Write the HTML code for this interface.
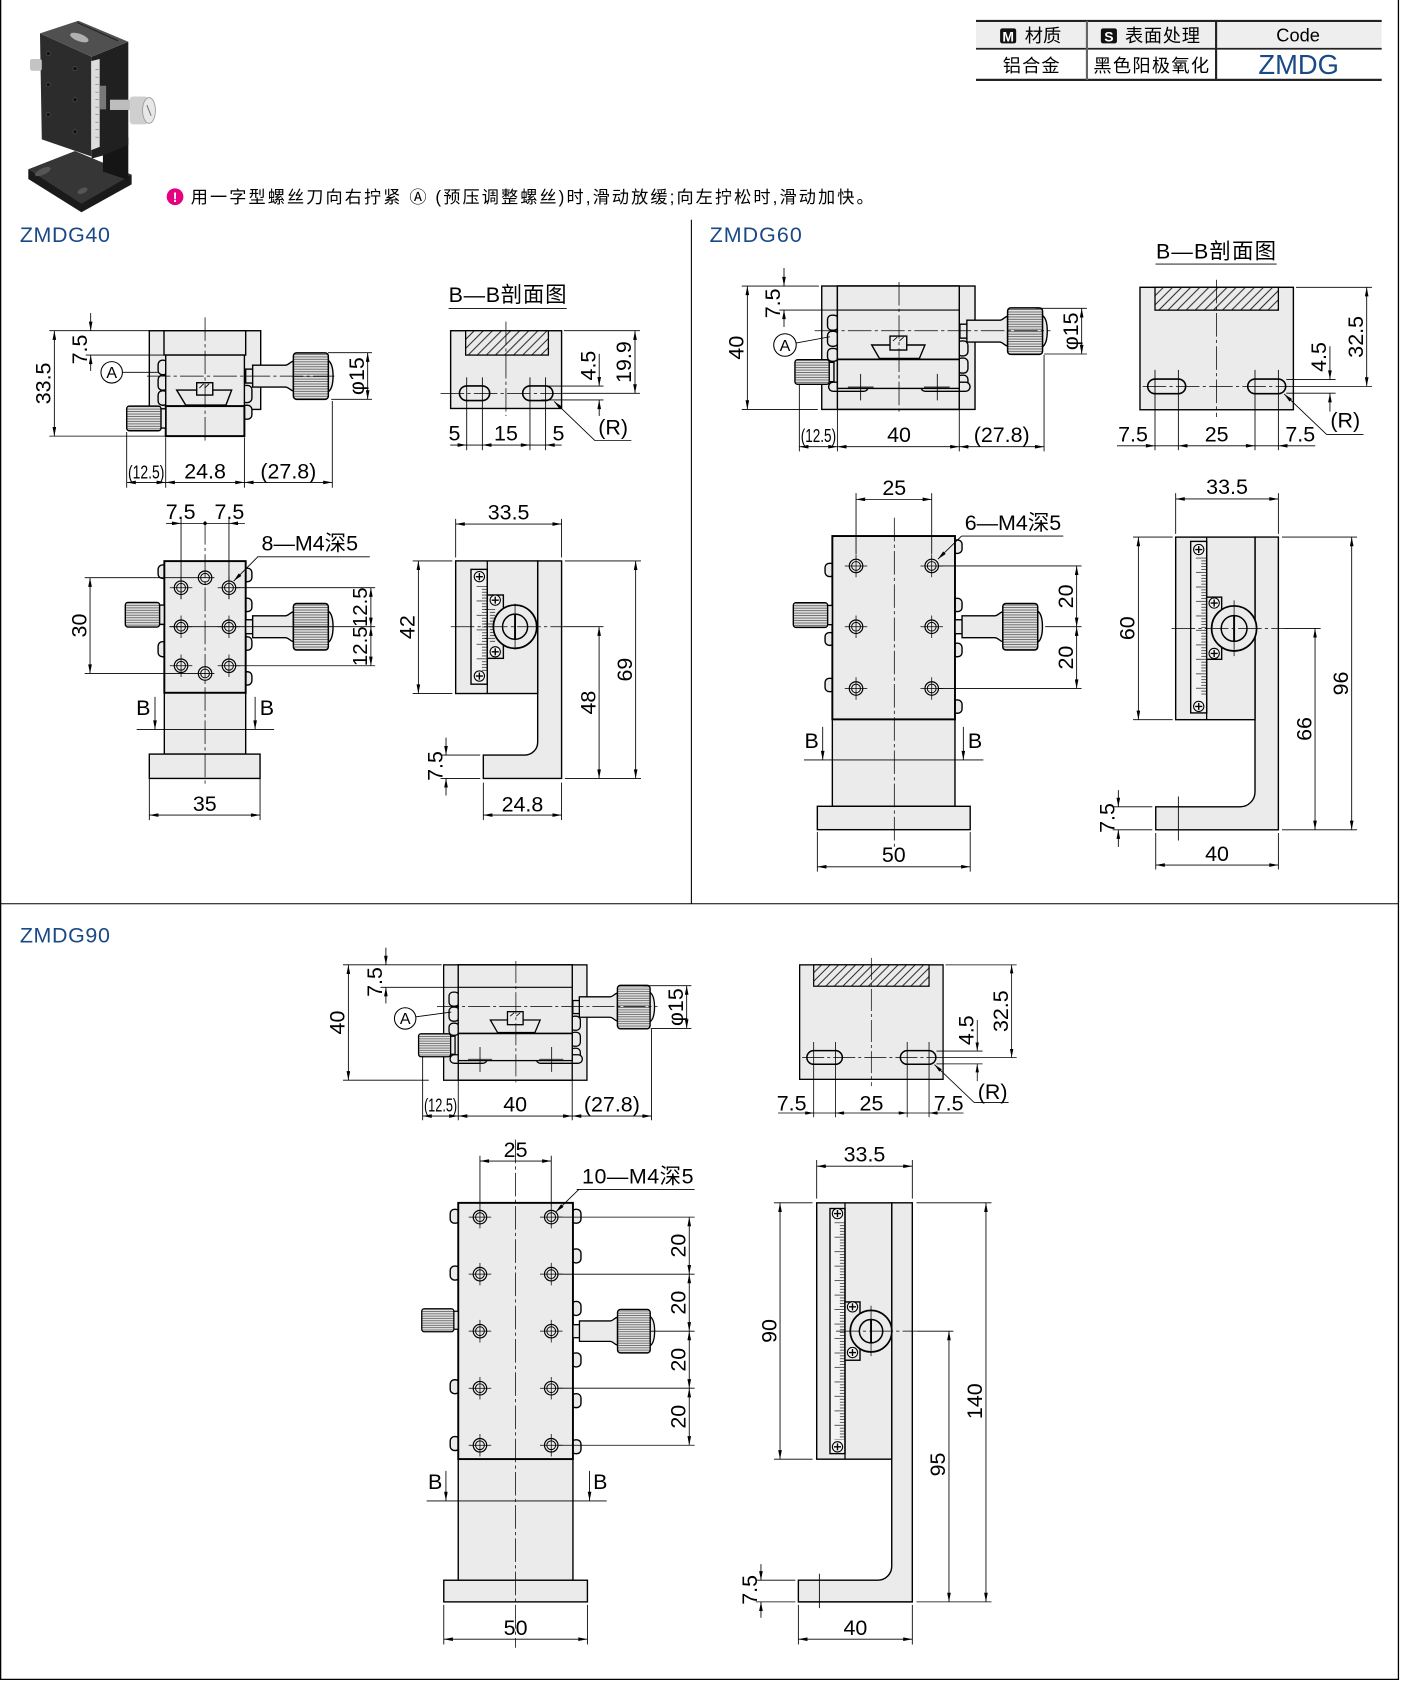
<!DOCTYPE html>
<html><head><meta charset="utf-8">
<style>
html,body{margin:0;padding:0;background:#fff}
svg{display:block}
text{font-family:"Liberation Sans","Noto Sans CJK SC",sans-serif;font-size:20px;text-anchor:middle;fill:#000}
.o{fill:#ebebeb;stroke:#000;stroke-width:1.3}
.t{fill:none;stroke:#000;stroke-width:.8}
.d{fill:none;stroke:#000;stroke-width:.8;marker-start:url(#a);marker-end:url(#a)}
.e{fill:none;stroke:#000;stroke-width:.8;marker-end:url(#a)}
.c{fill:none;stroke:#000;stroke-width:.7;stroke-dasharray:22 3 3 3}
.l{text-anchor:start}
.b{fill:#1a4a85}
</style></head><body>
<svg width="1401" height="1681" viewBox="0 0 1307 1568" preserveAspectRatio="none" xmlns="http://www.w3.org/2000/svg">
<defs>
<marker id="a" viewBox="0 0 10 4" refX="10" refY="2" markerWidth="9" markerHeight="3.4" markerUnits="userSpaceOnUse" orient="auto-start-reverse"><path d="M0,0L10,2L0,4Z" fill="#000"/></marker>
<pattern id="ht" width="6" height="6" patternUnits="userSpaceOnUse" patternTransform="rotate(45)"><rect width="6" height="6" fill="#ebebeb"/><line x1="3" y1="0" x2="3" y2="6" stroke="#000" stroke-width=".8"/></pattern>
<pattern id="kn" width="4" height="2.3" patternUnits="userSpaceOnUse"><rect width="4" height="2.3" fill="#e2e2e2"/><line x1="0" y1=".5" x2="4" y2=".5" stroke="#333" stroke-width=".6"/></pattern>
<pattern id="tk" width="15" height="13.5" patternUnits="userSpaceOnUse"><path d="M5,.5H15M10,3.2H15M10,5.9H15M10,8.6H15M10,11.3H15" stroke="#000" stroke-width=".6"/></pattern>
<g id="rk">
<rect class="o" x="0" y="-6.5" width="7" height="13"/>
<path class="o" d="M6.5,-10.2H37C40,-10.2 41,-13 44.5,-14V14C41,13 40,10.2 37,10.2H6.5Z"/>
<path class="o" d="M76.5,-15C80,-13 81.5,-7 81.5,0S80,13 76.5,15Z"/>
<rect x="44.5" y="-21.7" width="32.6" height="43.4" rx="3" fill="url(#kn)" stroke="#000" stroke-width="1.4"/>
</g>
<g id="lk">
<path class="o" d="M-5,-9H0V9H-5Z"/>
<rect x="-36.4" y="-11.5" width="32" height="23" rx="2.5" fill="url(#kn)" stroke="#000" stroke-width="1.3"/>
</g>
<g id="h"><circle r="6.3" fill="#ebebeb" stroke="#000" stroke-width="1.1"/><circle r="4.1" fill="none" stroke="#000" stroke-width=".9"/><path d="M-10.5,0H10.5M0,-10.5V10.5" stroke="#000" stroke-width=".7"/></g>
<g id="sc"><circle r="4.8" fill="#f5f5f5" stroke="#000" stroke-width="1"/><path d="M-3.3,0H3.3M0,-3.3V3.3" stroke="#000" stroke-width="1.3"/></g>
</defs>

<!-- frame -->
<path d="M0.6,0V1566.5H1304.6V0" fill="none" stroke="#000" stroke-width="1.2"/>
<path d="M0,843H1305M645,205V843" fill="none" stroke="#000" stroke-width="1"/>

<!-- header table -->
<rect x="910.5" y="19.5" width="378.5" height="26" fill="#eeeeee"/>
<path d="M910.5,19.5H1289M910.5,74.5H1289" stroke="#222" stroke-width="2"/>
<path d="M910.5,45.5H1289" stroke="#222" stroke-width="1.6"/>
<path d="M1014,19.5V74.5" stroke="#666" stroke-width="2"/>
<path d="M1134.5,19.5V74.5" stroke="#222" stroke-width="2"/>
<rect x="933" y="26.5" width="15" height="14" rx="2" fill="#111"/>
<text x="940.5" y="38.5" style="font-size:13px;font-weight:bold;fill:#fff">M</text>
<text class="l" x="956" y="39" style="font-size:17px" textLength="34">材质</text>
<rect x="1027" y="26.5" width="15" height="14" rx="2" fill="#111"/>
<text x="1034.5" y="38.5" style="font-size:13px;font-weight:bold;fill:#fff">S</text>
<text class="l" x="1049.5" y="39" style="font-size:17px" textLength="70">表面处理</text>
<text x="1211" y="38.5" style="font-size:17px">Code</text>
<text class="l" x="935.5" y="67" style="font-size:17px" textLength="53">铝合金</text>
<text class="l" x="1020" y="67" style="font-size:17px" textLength="108">黑色阳极氧化</text>
<text class="b" x="1211.5" y="69" style="font-size:25.5px">ZMDG</text>

<!-- photo -->
<g>
<polygon points="70,141 122.8,163 122.8,172 76,198 26.4,167 26.4,158" fill="#1a1a1a"/>
<polygon points="26.4,158 70,141 122.8,163 76,190" fill="#363636"/>
<ellipse cx="40" cy="160" rx="8" ry="3" fill="#555" transform="rotate(-25 40 160)"/>
<ellipse cx="77" cy="178" rx="5" ry="2.5" fill="#555" transform="rotate(-25 77 178)"/>
<polygon points="96,135 119.7,128 119.7,168 96,160" fill="#151515"/>
<polygon points="85.5,52.9 119.7,38.9 119.7,135 96,145 85.5,148" fill="#202020"/>
<polygon points="37.3,31.1 85.5,52.9 85.5,146 39,130" fill="#2c2c2c"/>
<polygon points="37.3,31.1 73.1,19.3 119.7,38.9 85.5,52.9" fill="#505050"/>
<path d="M72,21L110,38" stroke="#222" stroke-width="1"/>
<ellipse cx="74" cy="35" rx="9" ry="3.5" fill="#b0b0b0" transform="rotate(20 74 35)"/>
<polygon points="85,57 93,55 93,137 85,140" fill="#dcdcdc"/>
<path d="M89,65H92M89,72H92M89,79H92M89,86H92M89,93H92M89,100H92M89,107H92M89,114H92M89,121H92M89,128H92" stroke="#777" stroke-width=".6"/>
<rect x="93" y="80" width="6" height="22" fill="#777"/>
<g fill="#111" stroke="#555" stroke-width=".6"><circle cx="45" cy="50" r="2"/><circle cx="45" cy="79" r="2"/><circle cx="45" cy="107" r="2"/><circle cx="70" cy="64" r="2"/><circle cx="70" cy="93" r="2"/><circle cx="70" cy="123" r="2"/></g>
<rect x="28" y="55" width="11" height="11" rx="2" fill="#c4c4c4"/>
<rect x="102.6" y="93" width="19" height="9.6" fill="#bdbdbd"/>
<rect x="121" y="90" width="17" height="26" rx="3" fill="#cfcfcf"/>
<ellipse cx="139" cy="103" rx="6" ry="12" fill="#e8e8e8" stroke="#999" stroke-width=".8"/>
<path d="M137,98L141,108" stroke="#777" stroke-width="1"/>
</g>

<!-- note -->
<circle cx="163.3" cy="183.5" r="7.8" fill="#e4007f"/>
<text x="163.3" y="188.5" style="font-size:13px;font-weight:bold;fill:#fff">!</text>
<text class="l" x="178" y="189.5" style="font-size:16px" textLength="637">用一字型螺丝刀向右拧紧 Ⓐ (预压调整螺丝)时,滑动放缓;向左拧松时,滑动加快。</text>

<!-- titles -->
<text class="l b" x="18.5" y="225.5" textLength="84">ZMDG40</text>
<text class="l b" x="662" y="225.5" textLength="86">ZMDG60</text>
<text class="l b" x="18.5" y="879" textLength="84">ZMDG90</text>

<!-- ===== ZMDG40 front ===== -->
<rect class="o" x="139.3" y="308.5" width="103.9" height="73.4"/>
<rect class="o" x="147.5" y="336" width="9" height="13.5" rx="4"/>
<rect class="o" x="147.5" y="350" width="9" height="14" rx="4"/>
<rect class="o" x="147.5" y="364.5" width="9" height="13.5" rx="4"/>
<rect class="o" x="225" y="359.5" width="10" height="16" rx="4"/>
<rect class="o" x="225" y="378" width="10" height="13" rx="4"/>
<rect class="o" x="153" y="308.5" width="76.2" height="22.7"/>
<rect class="o" x="154.6" y="331.2" width="73.4" height="47.6"/>
<rect class="o" x="154.6" y="378.8" width="73.4" height="28" style="stroke-width:1.8"/>
<path class="o" d="M164.8,363.8H216.1L210.8,377.8H173.2Z"/>
<rect class="o" x="183.5" y="357" width="15" height="11.5"/>
<path class="t" d="M186,362L190,358M191,362L195,358"/>
<use href="#rk" transform="translate(229.2,350.8)"/>
<use href="#lk" transform="translate(154.6,390.3)"/>
<path class="c" d="M137,350.8H312M191.3,296V412"/>
<path class="t" d="M46,308.5H139M46,406.8H154M80,331.2H153M306,329H347M309,372.5H347M118.2,403V455M154.6,408V455M228,408V455M310,374V455"/>
<path class="d" d="M50.7,308.5V406.8"/>
<path class="e" d="M84.6,292V308.5"/>
<path class="e" d="M84.6,346V331.2"/>
<path class="d" d="M343,329V372.5"/>
<path class="d" d="M118.2,450H154.6"/>
<path class="d" d="M154.6,450H228"/>
<path class="d" d="M228,450H310"/>
<text x="47.2" y="357.6" transform="rotate(-90 47.2 357.6)">33.5</text>
<text x="81" y="326" transform="rotate(-90 81 326)">7.5</text>
<text x="339.5" y="350.8" transform="rotate(-90 339.5 350.8)">φ15</text>
<text x="136.4" y="446.5" style="font-size:17px" textLength="34" lengthAdjust="spacingAndGlyphs">(12.5)</text>
<text x="191.3" y="446.5">24.8</text>
<text x="269" y="446.5">(27.8)</text>
<circle cx="104.2" cy="347.3" r="10" fill="#fff" stroke="#000" stroke-width="1"/>
<text x="104.2" y="352.6" style="font-size:15px">A</text>
<path class="t" d="M114.2,347.3H148"/>

<!-- ===== ZMDG40 plan ===== -->
<rect class="o" x="147.5" y="527" width="9" height="12.5" rx="4"/>
<rect class="o" x="147.5" y="598.6" width="9" height="14" rx="4"/>
<rect class="o" x="226" y="530" width="9" height="12.6" rx="4"/>
<rect class="o" x="226" y="558" width="9" height="12.5" rx="4"/>
<rect class="o" x="226" y="594" width="9" height="12.5" rx="4"/>
<rect class="o" x="226" y="626.6" width="9" height="12.4" rx="4"/>
<rect class="o" x="153.3" y="646.2" width="75.9" height="57.2"/>
<rect class="o" x="139.3" y="703.4" width="103.3" height="22.7"/>
<rect class="o" x="153.3" y="523.4" width="75.9" height="122.8" style="stroke-width:1.8"/>
<use href="#lk" transform="translate(153.3,573.4)"/>
<use href="#rk" transform="translate(229.2,584.6)"/>
<use href="#h" x="168.9" y="548.2"/><use href="#h" x="213.6" y="548.2"/>
<use href="#h" x="168.9" y="584.6"/><use href="#h" x="213.6" y="584.6"/>
<use href="#h" x="168.9" y="621"/><use href="#h" x="213.6" y="621"/>
<circle cx="191.3" cy="538.9" r="6.3" class="o" style="stroke-width:1.1"/><circle cx="191.3" cy="538.9" r="4.1" fill="none" stroke="#000" stroke-width=".9"/>
<circle cx="191.3" cy="628.2" r="6.3" class="o" style="stroke-width:1.1"/><circle cx="191.3" cy="628.2" r="4.1" fill="none" stroke="#000" stroke-width=".9"/>
<path class="c" d="M191.3,486V733"/>
<path class="t" d="M168.9,483V559M213.6,483V559M168.9,488.2H213.6M79,538.9H200M79,628.2H200M220,548.2H350M220,621H350M158,584.6H350M127.5,680.4H255.7M139.3,726V765M242.6,726V765M240,519.4H345"/>
<circle cx="191.3" cy="488.2" r="1.6" fill="#000"/>
<path class="e" d="M155,488.2H168.9"/>
<path class="e" d="M228.5,488.2H213.6"/>
<path class="e" d="M240.5,519.4L218,542"/>
<path class="d" d="M84,538.9V628.2"/>
<path class="d" d="M346,548.2V584.6"/>
<path class="d" d="M346,584.6V621"/>
<path class="e" d="M144.6,650V680.4"/>
<path class="e" d="M238,650V680.4"/>
<path class="d" d="M139.3,760.3H242.6"/>
<text x="168.5" y="484">7.5</text>
<text x="214" y="484">7.5</text>
<text class="l" x="244" y="513.5" textLength="90">8—M4深5</text>
<text x="80.5" y="583.5" transform="rotate(-90 80.5 583.5)">30</text>
<text x="342.5" y="566.4" transform="rotate(-90 342.5 566.4)" style="font-size:19px">12.5</text>
<text x="342.5" y="602.8" transform="rotate(-90 342.5 602.8)" style="font-size:19px">12.5</text>
<text x="133.7" y="667">B</text>
<text x="249" y="667">B</text>
<text x="191" y="756.5">35</text>

<!-- ===== ZMDG40 B-B ===== -->
<text class="l" x="418.5" y="281.5" textLength="110">B—B剖面图</text>
<path class="t" d="M418.5,287.7H528.7"/>
<rect class="o" x="420.4" y="308.5" width="103.5" height="72.5"/>
<rect x="434.4" y="308.5" width="77.2" height="22.7" fill="url(#ht)" stroke="#000" stroke-width="1.2"/>
<rect class="o" x="428.6" y="360" width="28.2" height="13.6" rx="6.8" style="stroke-width:1.5"/>
<rect class="o" x="487.6" y="360" width="28.2" height="13.6" rx="6.8" style="stroke-width:1.5"/>
<path class="c" d="M472,300V388M411,366.9H525"/>
<path class="t" d="M435.4,352V420M450,352V420M494.4,352V420M509,352V420M505,360.1H563M505,373.1H563M526,308.5H597M525,366.9H597M555,411H589M435.4,415.1H450M494.4,415.1H509"/>
<path class="e" d="M559,330V360.1"/>
<path class="e" d="M559,388V373.1"/>
<path class="d" d="M592.4,308.5V366.9"/>
<path class="e" d="M555,411L517,374.5"/>
<path class="e" d="M420,415.1H435.4"/>
<path class="d" d="M450,415.1H494.4"/>
<path class="e" d="M524,415.1H509"/>
<text x="555.5" y="341" transform="rotate(-90 555.5 341)">4.5</text>
<text x="588.9" y="337.7" transform="rotate(-90 588.9 337.7)">19.9</text>
<text x="572" y="405.5">(R)</text>
<text x="424" y="411">5</text>
<text x="472" y="411">15</text>
<text x="521" y="411">5</text>

<!-- ===== ZMDG40 side ===== -->
<path class="o" d="M501.6,523.2H523.9V726.1H450.9V704.3H489.6A12,12 0 0 0 501.6,692.3Z"/>
<rect class="o" x="425.1" y="523.2" width="76.5" height="123.7"/>
<rect class="o" x="439.4" y="531.1" width="15.2" height="107.1" style="fill:#f3f3f3"/>
<path class="t" d="M454.6,523.2V646.9" style="stroke-width:1.2"/>
<g transform="translate(439.6,546.5)"><rect width="15" height="79.4" fill="url(#tk)"/></g>
<use href="#sc" x="447.2" y="537.9"/><use href="#sc" x="447.2" y="630.6"/>
<rect class="o" x="454.6" y="555" width="15" height="59.1"/>
<g transform="translate(447,568)"><rect width="15" height="32" fill="url(#tk)"/></g>
<use href="#sc" x="462" y="559.8"/><use href="#sc" x="462" y="608"/>
<circle class="o" cx="480.5" cy="584.6" r="20.2" style="stroke-width:1.6"/>
<circle class="o" cx="480.5" cy="584.6" r="11.7" style="stroke-width:1.4"/>
<path d="M480.5,573V596" stroke="#000" stroke-width="1.8"/>
<path class="c" d="M420.5,584.6H526M480.5,563V606"/>
<path class="t" d="M526,584.6H563M425.1,484V520M523.9,484V520M385,523.2H422M385,646.9H422M527,523.2H598M527,726.1H598M411,704.3H448M411,726.1H448M450.9,730V765M523.9,730V765"/>
<path class="d" d="M425.1,488.8H523.9"/>
<path class="d" d="M390.3,523.2V646.9"/>
<path class="d" d="M593,523.2V726.1"/>
<path class="d" d="M558.9,584.6V726.1"/>
<path class="e" d="M416.1,688V704.3"/>
<path class="e" d="M416.1,742V726.1"/>
<path class="d" d="M450.9,760.3H523.9"/>
<text x="474.5" y="484.5">33.5</text>
<text x="386.8" y="585" transform="rotate(-90 386.8 585)">42</text>
<text x="589.5" y="624.6" transform="rotate(-90 589.5 624.6)">69</text>
<text x="555.4" y="655.4" transform="rotate(-90 555.4 655.4)">48</text>
<text x="412.6" y="714.5" transform="rotate(-90 412.6 714.5)">7.5</text>
<text x="487.4" y="756.8">24.8</text>

<!-- ===== ZMDG60 front ===== -->
<g id="f60">
<rect class="o" x="766.6" y="266.8" width="143" height="115.1"/>
<rect class="o" x="772" y="294" width="10" height="14" rx="4"/>
<rect class="o" x="772" y="309" width="10" height="14" rx="4"/>
<rect class="o" x="772" y="325" width="10" height="12" rx="4"/>
<rect class="o" x="893" y="318" width="10" height="14" rx="4"/>
<rect class="o" x="893" y="334" width="10" height="14" rx="4"/>
<rect class="o" x="893" y="350" width="10" height="13" rx="4"/>
<rect class="o" x="773" y="356.5" width="37" height="8.5" rx="4.2"/>
<rect class="o" x="859" y="356.5" width="46" height="8.5" rx="4.2"/>
<rect class="o" x="781.2" y="266.8" width="113.7" height="115.1" style="fill:none"/>
<rect class="o" x="781.2" y="266.8" width="113.7" height="95.5"/>
<path d="M781.2,289.2H894.9" stroke="#000" stroke-width="1"/>
<path d="M781.2,335.2H894.9" stroke="#000" stroke-width="1.7"/>
<path class="t" d="M802.9,348.7V373.5M791,361H815M874.4,348.7V373.5M862,361H886"/>
<path class="o" d="M813.2,321.8H862.9L857.7,334.3H820.4Z"/>
<rect class="o" x="830.3" y="313.5" width="15.6" height="13"/>
<path class="t" d="M833,318L837,314.5M839,318L843,314.5"/>
<use href="#rk" transform="translate(895.5,308.9)"/>
<use href="#lk" transform="translate(778,347)"/>
<path class="c" d="M760,308.5H980M838.7,263V386"/>
</g>
<path class="t" d="M692,266.8H764M692,381.9H763M727,289.2H781M966,287.6H1014M974,330.2H1014M745.7,359V421M781.2,382V421M894.9,382V421M974,331V421M742.5,320L774.3,314.1"/>
<path class="d" d="M697.2,266.8V381.9"/>
<path class="e" d="M731.4,250V266.8"/>
<path class="e" d="M731.4,305V289.2"/>
<path class="d" d="M1009.1,287.6V330.2"/>
<path class="d" d="M745.7,416.7H781.2"/>
<path class="d" d="M781.2,416.7H894.9"/>
<path class="d" d="M894.9,416.7H974"/>
<circle cx="732.3" cy="321.8" r="10.5" fill="#fff" stroke="#000" stroke-width="1"/>
<text x="732.3" y="327.2" style="font-size:15px">A</text>
<text x="693.7" y="324.3" transform="rotate(-90 693.7 324.3)">40</text>
<text x="727.9" y="283" transform="rotate(-90 727.9 283)">7.5</text>
<text x="1005.6" y="309" transform="rotate(-90 1005.6 309)">φ15</text>
<text x="763.5" y="412.5" style="font-size:17px" textLength="33" lengthAdjust="spacingAndGlyphs">(12.5)</text>
<text x="838.7" y="412.5">40</text>
<text x="934.5" y="412.5">(27.8)</text>

<!-- ===== ZMDG60 plan ===== -->
<rect class="o" x="769.7" y="525.4" width="9" height="12.4" rx="4"/>
<rect class="o" x="769.7" y="590" width="9" height="12" rx="4"/>
<rect class="o" x="769.7" y="632.7" width="9" height="12.5" rx="4"/>
<rect class="o" x="888.5" y="503.7" width="9" height="12.5" rx="4"/>
<rect class="o" x="888.5" y="558.1" width="9" height="12.4" rx="4"/>
<rect class="o" x="888.5" y="600" width="9" height="12.6" rx="4"/>
<rect class="o" x="888.5" y="652.9" width="9" height="12.4" rx="4"/>
<rect class="o" x="776.5" y="671" width="114.4" height="81.1"/>
<rect class="o" x="762.5" y="752.1" width="142.6" height="21.8"/>
<rect class="o" x="776.5" y="500" width="114.4" height="171" style="stroke-width:1.8"/>
<use href="#lk" transform="translate(776.5,573.7)"/>
<use href="#rk" transform="translate(891,584.6)"/>
<use href="#h" x="798.6" y="527.9"/><use href="#h" x="869.2" y="527.9"/>
<use href="#h" x="798.6" y="584.6"/><use href="#h" x="869.2" y="584.6"/>
<use href="#h" x="798.6" y="642.2"/><use href="#h" x="869.2" y="642.2"/>
<path class="c" d="M834.3,483V792"/>
<path class="t" d="M798.6,460V517M869.2,460V517M876,527.9H1009M975,584.6H1009M876,642.2H1009M897,500H992M750,708.9H917.4M762.5,776V813M905.1,776V813"/>
<path class="d" d="M798.6,465.8H869.2"/>
<path class="e" d="M897,500L875,521.5"/>
<path class="d" d="M1004.4,527.9V584.6"/>
<path class="d" d="M1004.4,584.6V642.2"/>
<path class="e" d="M767.5,678V708.9"/>
<path class="e" d="M898.7,678V708.9"/>
<path class="d" d="M762.5,808.5H905.1"/>
<text x="834.3" y="461.5">25</text>
<text class="l" x="900" y="494.5" textLength="90">6—M4深5</text>
<text x="1000.9" y="556.3" transform="rotate(-90 1000.9 556.3)">20</text>
<text x="1000.9" y="613.4" transform="rotate(-90 1000.9 613.4)">20</text>
<text x="757.2" y="697.5">B</text>
<text x="909.6" y="697.5">B</text>
<text x="833.8" y="804">50</text>

<!-- ===== ZMDG60 B-B ===== -->
<text class="l" x="1078.4" y="241" textLength="112">B—B剖面图</text>
<path class="t" d="M1078,246.3H1191"/>
<g id="s60">
<rect class="o" x="1063.5" y="268" width="143.1" height="114.2"/>
<rect x="1077.5" y="268" width="115.1" height="21.3" fill="url(#ht)" stroke="#000" stroke-width="1.2"/>
<rect class="o" x="1070.7" y="353.6" width="35.4" height="13.6" rx="6.8" style="stroke-width:1.5"/>
<rect class="o" x="1164" y="353.6" width="35.4" height="13.6" rx="6.8" style="stroke-width:1.5"/>
<path class="c" d="M1135,261V389M1066,360.4H1205"/>
<path class="t" d="M1205,360.4H1280M1077.5,345V420M1099.3,345V420M1170.8,345V420M1192.6,345V420M1200,354H1246M1200,366.8H1246M1209,268H1280M1237.7,405.4H1272M1077.5,415.8H1099.3M1170.8,415.8H1192.6"/>
<path class="e" d="M1240.7,323V354"/>
<path class="e" d="M1240.7,384V366.8"/>
<path class="d" d="M1275,268V360.4"/>
<path class="e" d="M1237.7,405.4L1198,367.5"/>
<path class="e" d="M1042,415.8H1077.5"/>
<path class="d" d="M1099.3,415.8H1170.8"/>
<path class="e" d="M1227,415.8H1192.6"/>
</g>
<text x="1271.5" y="314.2" transform="rotate(-90 1271.5 314.2)">32.5</text>
<text x="1237.2" y="333" transform="rotate(-90 1237.2 333)">4.5</text>
<text x="1255" y="399">(R)</text>
<text x="1057" y="412">7.5</text>
<text x="1135" y="412">25</text>
<text x="1213" y="412">7.5</text>

<!-- ===== ZMDG60 side ===== -->
<path class="o" d="M1170.8,501H1192.6V774H1078.2V752.6H1156.8A14,14 0 0 0 1170.8,738.6Z"/>
<rect class="o" x="1096.8" y="501" width="74" height="170.3"/>
<rect class="o" x="1110.8" y="505" width="14.9" height="160" style="fill:#f3f3f3"/>
<path class="t" d="M1125.7,501V671.3" style="stroke-width:1.2"/>
<g transform="translate(1110.7,520)"><rect width="15" height="128" fill="url(#tk)"/></g>
<use href="#sc" x="1118.3" y="512.6"/><use href="#sc" x="1118.3" y="658.9"/>
<rect class="o" x="1125.7" y="557" width="14" height="58"/>
<use href="#sc" x="1132.7" y="562.5"/><use href="#sc" x="1132.7" y="609.5"/>
<circle class="o" cx="1151.3" cy="586.2" r="21" style="stroke-width:1.6"/>
<circle class="o" cx="1151.3" cy="586.2" r="12" style="stroke-width:1.4"/>
<path d="M1151.3,574.5V598" stroke="#000" stroke-width="1.8"/>
<path class="c" d="M1093,586.2H1197M1151.3,560V612"/>
<path class="t" d="M1197,586.2H1232M1099.3,743V784M1096.8,460V498M1192.6,460V498M1057,501H1094M1057,671.3H1094M1196,501H1266M1196,774H1266M1038,752.6H1075M1038,774H1075M1078.2,777V811M1192.6,777V811"/>
<path class="d" d="M1096.8,465.4H1192.6"/>
<path class="d" d="M1062,501V671.3"/>
<path class="d" d="M1261,501V774"/>
<path class="d" d="M1226.8,586.2V774"/>
<path class="e" d="M1043.3,737V752.6"/>
<path class="e" d="M1043.3,790V774"/>
<path class="d" d="M1078.2,806.9H1192.6"/>
<text x="1144.7" y="461">33.5</text>
<text x="1058.5" y="586" transform="rotate(-90 1058.5 586)">60</text>
<text x="1257.5" y="637.5" transform="rotate(-90 1257.5 637.5)">96</text>
<text x="1223.3" y="680" transform="rotate(-90 1223.3 680)">66</text>
<text x="1039.8" y="763" transform="rotate(-90 1039.8 763)">7.5</text>
<text x="1135.4" y="803">40</text>

<!-- ===== ZMDG90 front ===== -->
<use href="#f60" transform="translate(481,900) scale(0.935) translate(-838.4,-266.8)"/>
<path class="t" d="M320,900H412M320,1007.6H400M355,920.9H427M600,919.4H645M607,959.3H645M394.3,985V1045M427.5,1008V1045M533.8,1008V1045M607.8,960V1045M388,948.5L421,944"/>
<path class="d" d="M325,900V1007.6"/>
<path class="e" d="M360,884V900"/>
<path class="e" d="M360,936V920.9"/>
<path class="d" d="M640.6,919.4V959.3"/>
<path class="d" d="M394.3,1041H427.5"/>
<path class="d" d="M427.5,1041H533.8"/>
<path class="d" d="M533.8,1041H607.8"/>
<circle cx="378" cy="950" r="10" fill="#fff" stroke="#000" stroke-width="1"/>
<text x="378" y="955.3" style="font-size:15px">A</text>
<text x="321.5" y="953.8" transform="rotate(-90 321.5 953.8)">40</text>
<text x="356.5" y="916" transform="rotate(-90 356.5 916)">7.5</text>
<text x="637" y="939.4" transform="rotate(-90 637 939.4)">φ15</text>
<text x="411" y="1037" style="font-size:17px" textLength="31" lengthAdjust="spacingAndGlyphs">(12.5)</text>
<text x="480.6" y="1037">40</text>
<text x="570.8" y="1037">(27.8)</text>

<!-- ===== ZMDG90 section ===== -->
<use href="#s60" transform="translate(746,900) scale(0.935) translate(-1063.5,-268)"/>
<text x="940.3" y="943.2" transform="rotate(-90 940.3 943.2)">32.5</text>
<text x="908.2" y="961" transform="rotate(-90 908.2 961)">4.5</text>
<text x="926" y="1025">(R)</text>
<text x="738.5" y="1036">7.5</text>
<text x="813" y="1036">25</text>
<text x="885" y="1036">7.5</text>

<!-- ===== ZMDG90 plan ===== -->
<rect class="o" x="420" y="1128" width="9" height="13" rx="4"/>
<rect class="o" x="420" y="1181" width="9" height="13" rx="4"/>
<rect class="o" x="420" y="1287" width="9" height="13" rx="4"/>
<rect class="o" x="420" y="1340" width="9" height="13" rx="4"/>
<rect class="o" x="533" y="1128" width="9" height="13" rx="4"/>
<rect class="o" x="533" y="1165" width="9" height="13" rx="4"/>
<rect class="o" x="533" y="1214" width="9" height="13" rx="4"/>
<rect class="o" x="533" y="1262" width="9" height="13" rx="4"/>
<rect class="o" x="533" y="1300" width="9" height="13" rx="4"/>
<rect class="o" x="533" y="1343" width="9" height="13" rx="4"/>
<rect class="o" x="427.5" y="1361" width="107" height="113"/>
<rect class="o" x="414" y="1474" width="134" height="20.2"/>
<rect class="o" x="427.5" y="1122" width="107" height="239" style="stroke-width:1.8"/>
<use href="#lk" transform="translate(427.5,1231.5) scale(0.935)"/>
<use href="#rk" transform="translate(534.5,1241.7) scale(0.935)"/>
<use href="#h" x="447.75" y="1135.3"/><use href="#h" x="514.25" y="1135.3"/>
<use href="#h" x="447.75" y="1188.5"/><use href="#h" x="514.25" y="1188.5"/>
<use href="#h" x="447.75" y="1241.7"/><use href="#h" x="514.25" y="1241.7"/>
<use href="#h" x="447.75" y="1294.9"/><use href="#h" x="514.25" y="1294.9"/>
<use href="#h" x="447.75" y="1348.1"/><use href="#h" x="514.25" y="1348.1"/>
<path class="c" d="M481,1063V1537"/>
<path class="t" d="M447.75,1078V1125M514.25,1078V1125M520,1135.3H648M520,1188.5H648M607,1241.7H648M520,1294.9H648M520,1348.1H648M538,1109.5H648M398,1400H566M414,1497V1534M548,1497V1534"/>
<path class="d" d="M447.75,1083H514.25"/>
<path class="e" d="M540,1109.5L518.5,1130.5"/>
<path class="d" d="M643,1135.3V1188.5"/>
<path class="d" d="M643,1188.5V1241.7"/>
<path class="d" d="M643,1241.7V1294.9"/>
<path class="d" d="M643,1294.9V1348.1"/>
<path class="e" d="M416,1372V1400"/>
<path class="e" d="M550,1372V1400"/>
<path class="d" d="M414,1529H548"/>
<text x="481" y="1079">25</text>
<text class="l" x="543" y="1104" textLength="104">10—M4深5</text>
<text x="639.5" y="1161.9" transform="rotate(-90 639.5 1161.9)">20</text>
<text x="639.5" y="1215.1" transform="rotate(-90 639.5 1215.1)">20</text>
<text x="639.5" y="1268.3" transform="rotate(-90 639.5 1268.3)">20</text>
<text x="639.5" y="1321.5" transform="rotate(-90 639.5 1321.5)">20</text>
<text x="406" y="1389">B</text>
<text x="560" y="1389">B</text>
<text x="481" y="1525">50</text>

<!-- ===== ZMDG90 side ===== -->
<path class="o" d="M831.9,1122H851.1V1494.2H744.8V1474H818.9A13,13 0 0 0 831.9,1461Z"/>
<rect class="o" x="761.9" y="1122" width="70" height="239.1"/>
<rect class="o" x="774.3" y="1127.3" width="14" height="228.6" style="fill:#f3f3f3"/>
<path class="t" d="M788.3,1122V1361.1" style="stroke-width:1.2"/>
<g transform="translate(773.5,1140)"><rect width="15" height="203" fill="url(#tk)"/></g>
<use href="#sc" x="781.3" y="1132"/><use href="#sc" x="781.3" y="1349.6"/>
<rect class="o" x="788.3" y="1214.4" width="14" height="54.4"/>
<use href="#sc" x="795.3" y="1219"/><use href="#sc" x="795.3" y="1261.6"/>
<circle class="o" cx="812.6" cy="1241.7" r="19.4" style="stroke-width:1.6"/>
<circle class="o" cx="812.6" cy="1241.7" r="10.9" style="stroke-width:1.4"/>
<path d="M812.6,1231V1252.5" stroke="#000" stroke-width="1.8"/>
<path class="c" d="M780,1241.7H856M812.6,1218V1265"/>
<path class="t" d="M856,1241.7H889.4M764.4,1468V1500M761.9,1082V1118M851.1,1082V1118M722,1122H758M722,1361.1H758M855,1122H925M855,1494.2H925M705,1474H742M705,1494.2H742M744.8,1497V1534M851.1,1497V1534"/>
<path class="d" d="M761.9,1087.8H851.1"/>
<path class="d" d="M727.7,1122V1361.1"/>
<path class="d" d="M919.8,1122V1494.2"/>
<path class="d" d="M885.3,1241.7V1494.2"/>
<path class="e" d="M709.9,1459V1474"/>
<path class="e" d="M709.9,1509V1494.2"/>
<path class="d" d="M744.8,1529H851.1"/>
<text x="806.5" y="1083.5">33.5</text>
<text x="724.2" y="1241.5" transform="rotate(-90 724.2 1241.5)">90</text>
<text x="916.3" y="1307" transform="rotate(-90 916.3 1307)">140</text>
<text x="881.8" y="1366" transform="rotate(-90 881.8 1366)">95</text>
<text x="706.4" y="1483" transform="rotate(-90 706.4 1483)">7.5</text>
<text x="798" y="1525">40</text>
</svg>
</body></html>
